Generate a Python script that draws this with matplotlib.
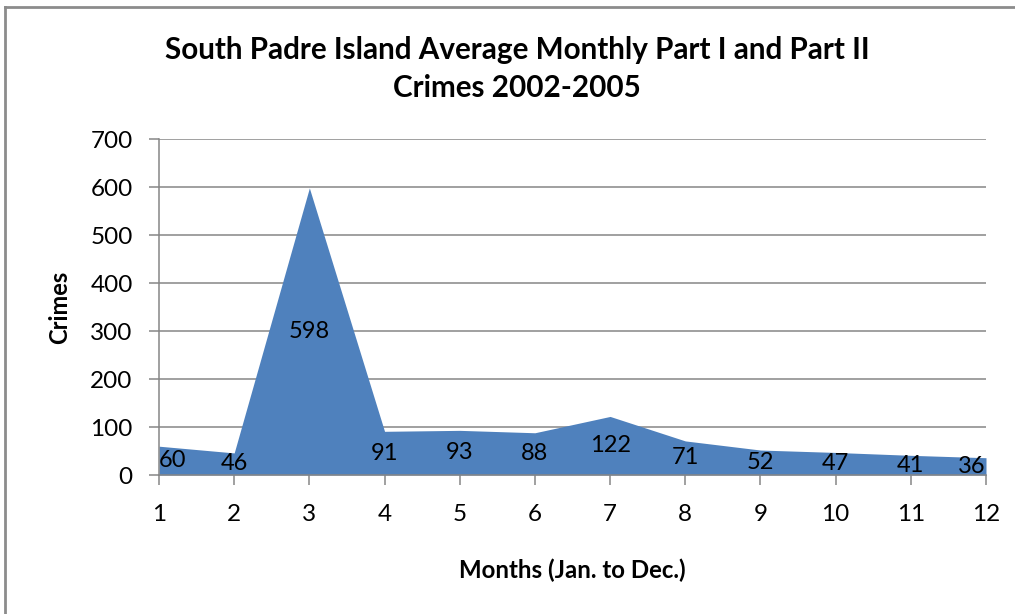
import matplotlib
matplotlib.use("Agg")
import matplotlib.pyplot as plt
from matplotlib.lines import Line2D

months = [1, 2, 3, 4, 5, 6, 7, 8, 9, 10, 11, 12]
crimes = [60, 46, 598, 91, 93, 88, 122, 71, 52, 47, 41, 36]
yticks = [0, 100, 200, 300, 400, 500, 600, 700]

title = "South Padre Island Average Monthly Part I and Part II\nCrimes 2002-2005"
xlabel = "Months (Jan. to Dec.)"
ylabel = "Crimes"

plt.rcParams['font.family'] = ['Lato', 'DejaVu Sans']

W, H = 1015, 614
fig = plt.figure(figsize=(W / 100, H / 100), dpi=100)
ax = fig.add_axes([159 / W, 1 - 475 / H, (986 - 159) / W, (475 - 139) / H])

grid_c = "#868686"
ax.fill_between(months, crimes, 0, color="#4F81BD", linewidth=0, zorder=2)
ax.set_xlim(1, 12)
ax.set_ylim(0, 700)
ax.set_yticks(yticks)
ax.set_xticks(months)
ax.set_xticklabels([str(m) for m in months])
for y in yticks[1:]:
    ax.axhline(y, color=grid_c, linewidth=1.1, zorder=1)

for s in ["top", "right"]:
    ax.spines[s].set_visible(False)
for s in ["left", "bottom"]:
    ax.spines[s].set_color(grid_c)
    ax.spines[s].set_linewidth(1.1)
    ax.spines[s].set_zorder(3)
ax.tick_params(axis="both", colors=grid_c, labelcolor="black", labelsize=17.5,
               length=7, width=1.1)
ax.tick_params(axis="x", pad=14)
ax.tick_params(axis="y", pad=12)

for m, v in zip(months, crimes):
    ha = "center"
    if m == 1:
        ha = "left"
    elif m == 12:
        ha = "right"
    ax.text(m, v / 2, str(v), ha=ha, va="center", fontsize=17, color="black", zorder=4)

fig.text(517 / W, 1 - 69 / H, title, ha="center", va="center", fontsize=21.3,
         fontweight="bold", linespacing=1.4)
fig.text(572 / W, 1 - 570 / H, xlabel, ha="center", va="center", fontsize=17.3,
         fontweight="bold")
fig.text(60 / W, 1 - 307 / H, ylabel, ha="center", va="center", fontsize=17,
         fontweight="bold", rotation=90)

# outer chart border (partially cropped)
fig.add_artist(Line2D([5 / W, 5 / W], [0, 1 - 7 / H], transform=fig.transFigure,
                      color="#8C8C8C", linewidth=2))
fig.add_artist(Line2D([5 / W, 1], [1 - 7 / H, 1 - 7 / H], transform=fig.transFigure,
                      color="#8C8C8C", linewidth=2))

fig.savefig("out.png", dpi=100)
